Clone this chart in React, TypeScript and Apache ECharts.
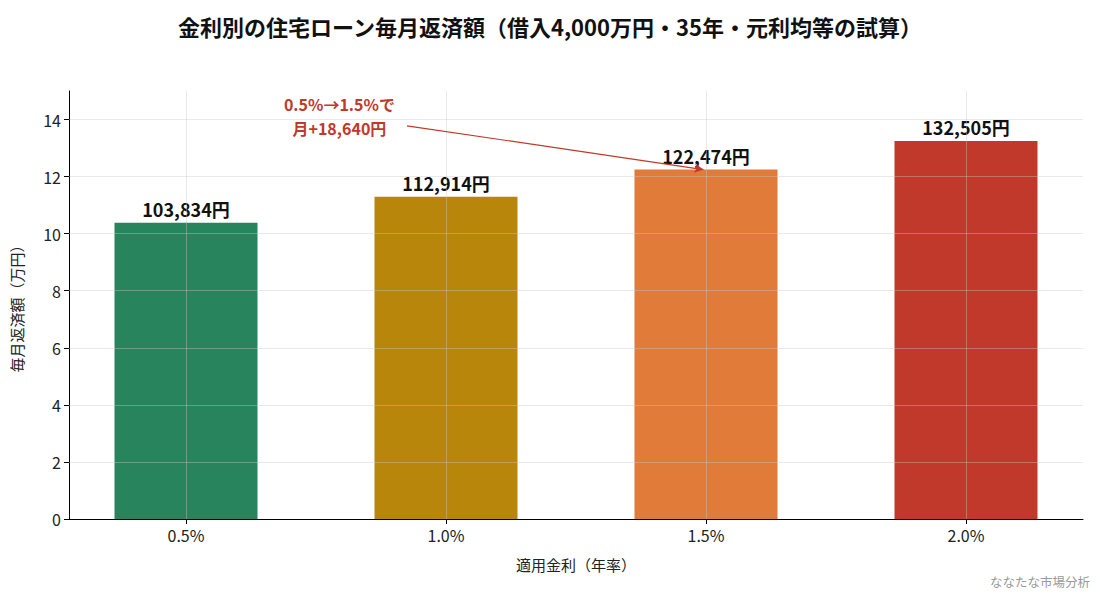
import { useEffect, useRef } from "react"
import * as echarts from "echarts"

const rates = ["0.5%", "1.0%", "1.5%", "2.0%"]
const monthlyYen = [103834, 112914, 122474, 132505]
const barColors = ["#27845c", "#b8860b", "#e07b39", "#c0392b"]
const yTicks = [0, 2, 4, 6, 8, 10, 12, 14]
const xTicks = [0, 1, 2, 3]

const FONT = "'Noto Sans CJK JP', 'Noto Sans', sans-serif"
const RED = "#c0392b"
const GRID = "rgba(200,200,200,0.4)"

export default function App() {
  const chartRef = useRef<HTMLDivElement>(null)

  useEffect(() => {
    document.body.style.margin = "0"
    if (!chartRef.current) return
    const chart = echarts.init(chartRef.current, null, { renderer: "svg" })

    const man = monthlyYen.map(v => v / 10000)
    const diff = monthlyYen[2] - monthlyYen[0]
    const noteLines = ["0.5%→1.5%で", "月+" + diff.toLocaleString("en-US") + "円"]

    const option = {
      animation: false,
      textStyle: { fontFamily: FONT },
      title: {
        text: "金利別の住宅ローン毎月返済額（借入4,000万円・35年・元利均等の試算）",
        left: "center",
        top: 10,
        textStyle: { fontSize: 22, fontWeight: "bold", color: "#111", fontFamily: FONT }
      },
      graphic: [
        {
          type: "text",
          right: 10,
          bottom: 6,
          style: { text: "ななたな市場分析", fontSize: 12.5, fill: "#999", fontFamily: FONT }
        }
      ],
      grid: { left: 69, right: 17, top: 91, bottom: 75 },
      xAxis: {
        type: "value",
        min: -0.45,
        max: 3.45,
        name: "適用金利（年率）",
        nameLocation: "middle",
        nameGap: 38,
        nameTextStyle: { fontSize: 15, color: "#222", fontFamily: FONT },
        axisLine: { show: true, onZero: false, lineStyle: { color: "#000", width: 1 } },
        axisTick: { show: true, customValues: xTicks, length: 5, lineStyle: { color: "#000" } },
        axisLabel: {
          customValues: xTicks,
          formatter: (v: number) => rates[Math.round(v)] ?? "",
          fontSize: 16,
          color: "#222",
          margin: 8,
          fontFamily: FONT
        },
        splitLine: { show: false }
      },
      yAxis: {
        type: "value",
        min: 0,
        max: 15,
        name: "毎月返済額（万円）",
        nameLocation: "middle",
        nameGap: 45,
        nameTextStyle: { fontSize: 15, color: "#222", fontFamily: FONT },
        axisLine: { show: true, onZero: false, lineStyle: { color: "#000", width: 1 } },
        axisTick: { show: true, customValues: yTicks, length: 5, lineStyle: { color: "#000" } },
        axisLabel: { customValues: yTicks, fontSize: 16, color: "#222", margin: 8, fontFamily: FONT },
        splitLine: { show: false }
      },
      series: [
        {
          type: "bar",
          barWidth: 143,
          data: man.map((v, i) => ({
            value: [i, v],
            itemStyle: { color: barColors[i] },
            label: {
              show: true,
              position: "top",
              distance: 5,
              formatter: monthlyYen[i].toLocaleString("en-US") + "円",
              fontSize: 18,
              fontWeight: "bold",
              color: "#111",
              fontFamily: FONT
            }
          })),
          markLine: {
            silent: true,
            symbol: ["none", "none"],
            label: { show: false },
            lineStyle: { color: GRID, width: 1, type: "solid" },
            data: [
              ...yTicks.slice(1).map(t => ({ yAxis: t })),
              ...xTicks.map(t => ({ xAxis: t })),
              [
                { coord: [0.85, 13.78], symbol: "none" },
                {
                  coord: [1.99, man[2]],
                  symbol: "arrow",
                  symbolSize: [7, 9],
                  lineStyle: { color: RED, width: 1.2, type: "solid" }
                }
              ]
            ]
          },
          markPoint: {
            silent: true,
            symbol: "circle",
            symbolSize: 0,
            data: noteLines.map((t, i) => ({
              coord: [0.59, i === 0 ? 14.56 : 13.72],
              label: {
                show: true,
                position: "inside",
                formatter: t,
                fontSize: 16,
                lineHeight: 16,
                fontWeight: "bold",
                color: RED,
                align: "center",
                fontFamily: FONT
              }
            }))
          }
        }
      ]
    }

    chart.setOption(option)
    return () => {
      chart.dispose()
    }
  }, [])

  return <div ref={chartRef} style={{ width: 1100, height: 594 }} />
}
